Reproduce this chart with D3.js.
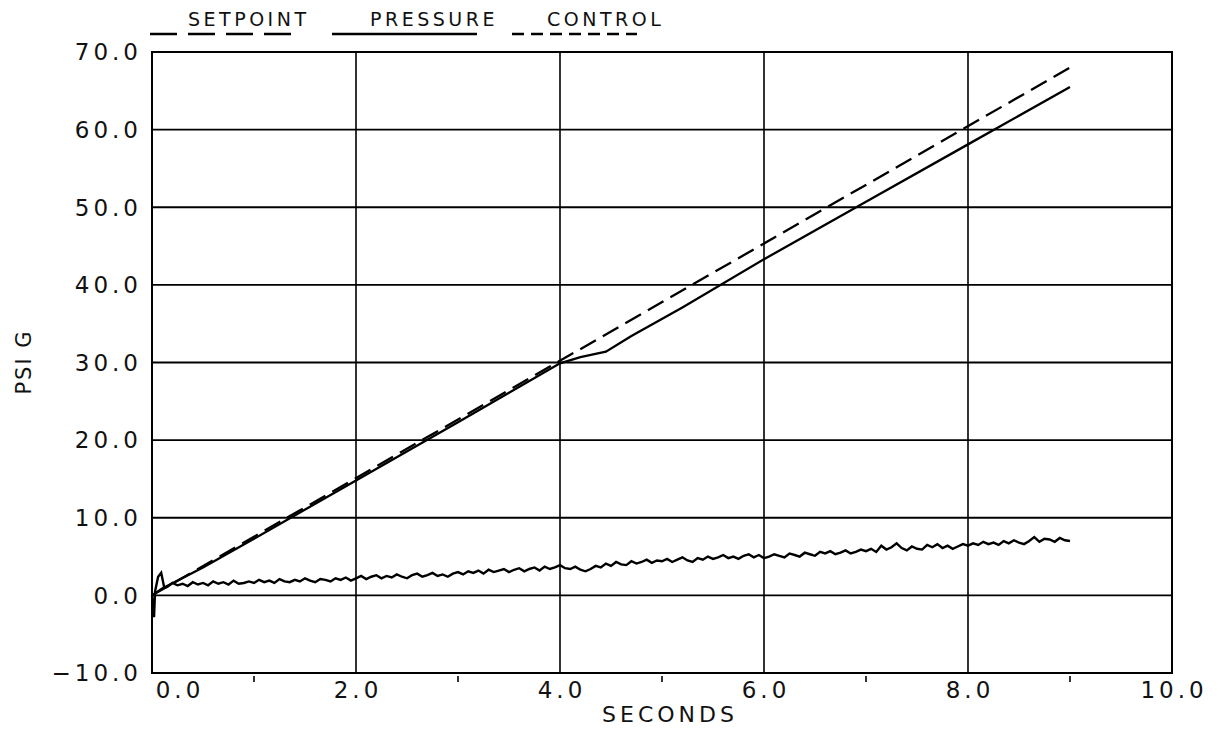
<!DOCTYPE html>
<html>
<head>
<meta charset="utf-8">
<script src="https://cdn.jsdelivr.net/npm/d3@7"></script>
<style>
  body { margin: 0; background: #fff; }
  text { font-family: "DejaVu Sans", sans-serif; fill: #111; }
</style>
</head>
<body>
<div class="chart"></div>
<script>
// ---- data ----
var xTicks = [0, 2, 4, 6, 8, 10];
var xMinor = [1, 3, 5, 7, 9];
var yTicks = [-10, 0, 10, 20, 30, 40, 50, 60, 70];

var setpoint = [[0, 0], [9.0, 68.0]];

var pressure = [[0, 0], [0.1, 0.9], [0.5, 3.6], [1, 7.3], [2, 14.8], [3, 22.3], [3.5, 26.1],
  [4, 29.9], [4.2, 30.7], [4.45, 31.4], [4.7, 33.4], [5.2, 37.1], [6, 43.3], [7, 50.7],
  [8, 58.1], [9, 65.5]];

// control: start transient, then samples every 0.05 s from 0.15 s
var controlHead = [[0, 0], [0.02, -2.8], [0.03, 0.5], [0.06, 2.4], [0.09, 2.9], [0.12, 1.0]];
var controlValues = [
  1.1,1.6,1.3,1.5,1.2,1.7,1.4,1.6,1.3,1.8,1.5,1.7,1.4,1.9,1.5,1.6,1.8,
  1.6,2.0,1.7,1.9,1.6,2.1,1.8,1.7,2.0,1.8,2.2,1.9,1.7,2.1,2.0,1.8,2.2,2.0,2.3,1.9,
  2.2,2.5,2.1,2.4,2.6,2.2,2.5,2.3,2.7,2.4,2.2,2.6,2.8,2.4,2.6,2.9,2.5,2.7,2.4,2.8,
  3.0,2.7,3.1,2.9,3.2,2.8,3.3,3.0,3.2,3.4,3.0,3.3,3.5,3.1,3.4,3.6,3.2,3.7,3.4,3.6,
  3.9,3.5,3.4,3.7,3.3,3.1,3.4,3.8,3.6,4.1,3.8,4.3,4.0,3.9,4.4,4.1,4.3,4.6,4.2,4.5,
  4.4,4.7,4.3,4.6,4.9,4.5,4.3,4.8,4.6,5.0,4.7,4.9,5.2,4.8,5.0,4.7,5.1,5.3,4.9,5.2,
  4.8,5.0,5.3,5.1,4.9,5.4,5.2,5.0,5.5,5.3,5.1,5.6,5.4,5.7,5.3,5.5,5.8,5.4,5.6,5.9,
  5.7,6.0,5.6,6.4,5.9,6.2,6.7,6.1,5.8,6.3,6.0,5.9,6.5,6.2,6.6,6.1,6.4,6.0,6.3,6.6,
  6.4,6.7,6.5,6.9,6.6,6.8,6.5,7.0,6.7,7.1,6.8,6.6,7.0,7.5,6.9,7.3,7.2,6.9,7.4,7.1,
  7.0];

var legendItems = [
  {name: "SETPOINT", dash: "27,11"},
  {name: "PRESSURE", dash: null},
  {name: "CONTROL", dash: "12,7"}
];

// ---- layout ----
var W = 1226, H = 729;
var margin = {top: 52, right: 54, bottom: 56, left: 152};
var width = W - margin.left - margin.right, height = H - margin.top - margin.bottom;

var svg = d3.select(".chart").append("svg")
  .attr("width", W).attr("height", H);
var g = svg.append("g").attr("transform", "translate(" + margin.left + "," + margin.top + ")");

var x = d3.scaleLinear().domain([0, 10]).range([0, width]);
var y = d3.scaleLinear().domain([-10, 70]).range([height, 0]);

// grid
g.selectAll(".hgrid").data(yTicks.slice(1, -1)).enter().append("line")
  .attr("x1", 0).attr("x2", width)
  .attr("y1", function(d) { return y(d); }).attr("y2", function(d) { return y(d); })
  .attr("stroke", "#000").attr("stroke-width", 1.8);
g.selectAll(".vgrid").data(xTicks.slice(1, -1)).enter().append("line")
  .attr("y1", 0).attr("y2", height)
  .attr("x1", function(d) { return x(d); }).attr("x2", function(d) { return x(d); })
  .attr("stroke", "#000").attr("stroke-width", 1.6);
g.append("rect").attr("width", width).attr("height", height)
  .attr("fill", "none").attr("stroke", "#000").attr("stroke-width", 2);

// minor ticks below x axis
g.selectAll(".minor").data(xMinor).enter().append("line")
  .attr("x1", function(d) { return x(d); }).attr("x2", function(d) { return x(d); })
  .attr("y1", height + 3).attr("y2", height + 9)
  .attr("stroke", "#000").attr("stroke-width", 1.6);

// tick labels
g.selectAll(".ylab").data(yTicks).enter().append("text")
  .attr("x", -10).attr("y", function(d) { return y(d); })
  .attr("dy", "0.36em").attr("text-anchor", "end")
  .style("font-size", "23px").style("letter-spacing", "4px")
  .text(function(d) { return d < 0 ? "\u2212" + d3.format(".1f")(-d) : d3.format(".1f")(d); });

g.selectAll(".xlab").data(xTicks).enter().append("text")
  .attr("x", function(d, i) { return x(d) + (i == 0 ? 28 : 2); })
  .attr("y", height + 25)
  .attr("text-anchor", "middle")
  .style("font-size", "23px").style("letter-spacing", "4px")
  .text(function(d) { return d3.format(".1f")(d); });

svg.append("text").attr("x", 670).attr("y", 722).attr("text-anchor", "middle")
  .style("font-size", "22px").style("letter-spacing", "4px").text("SECONDS");

svg.append("text").attr("transform", "translate(31,362) rotate(-90)")
  .attr("text-anchor", "middle")
  .style("font-size", "21px").style("letter-spacing", "2px").text("PSI G");

// legend
var legX = [150, 332, 512], legW = [147, 145, 125], legTx = [188, 370, 547];
legendItems.forEach(function(d, i) {
  svg.append("text").attr("x", legTx[i]).attr("y", 26)
    .style("font-size", "19px").style("letter-spacing", "3.5px").text(d.name);
  svg.append("line").attr("x1", legX[i]).attr("x2", legX[i] + legW[i])
    .attr("y1", 34).attr("y2", 34)
    .attr("stroke", "#000").attr("stroke-width", 2.4)
    .attr("stroke-dasharray", d.dash);
});

// series
var line = d3.line().x(function(d) { return x(d[0]); }).y(function(d) { return y(d[1]); });

var controlTimes = d3.range(controlValues.length).map(function(i) { return 0.15 + i * 0.05; });
var control = controlHead.concat(controlValues.map(function(v, i) { return [controlTimes[i], v]; }));

g.append("path").datum(control).attr("d", line)
  .attr("fill", "none").attr("stroke", "#000").attr("stroke-width", 2.4);
g.append("path").datum(pressure).attr("d", line)
  .attr("fill", "none").attr("stroke", "#000").attr("stroke-width", 2.3);
g.append("path").datum(setpoint).attr("d", line)
  .attr("fill", "none").attr("stroke", "#000").attr("stroke-width", 2.3)
  .attr("stroke-dasharray", "18,8");
</script>
</body>
</html>
